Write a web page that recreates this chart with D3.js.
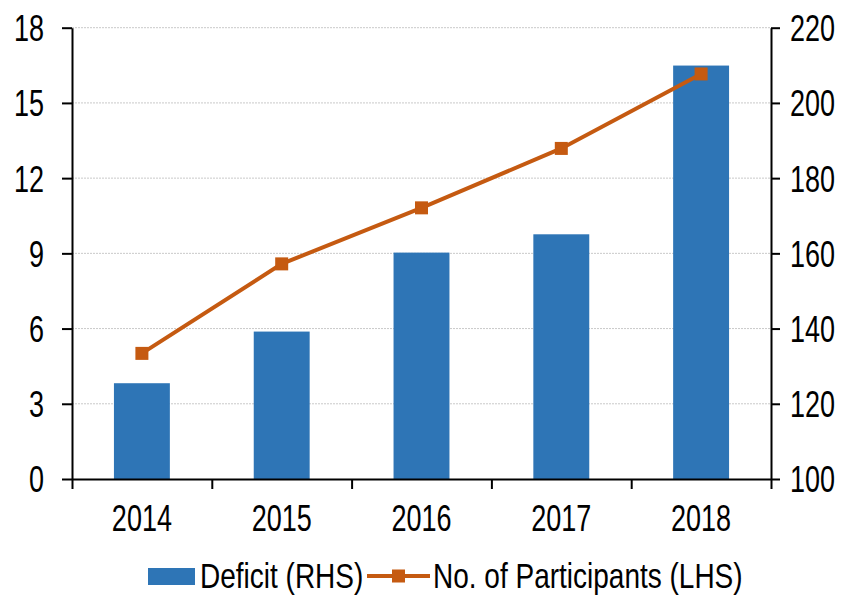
<!DOCTYPE html>
<html><head><meta charset="utf-8">
<script src="https://cdn.jsdelivr.net/npm/d3@7"></script>
<style>
html,body{margin:0;padding:0;background:#fff;}
svg text{font-family:"Liberation Sans",Arial,sans-serif;fill:#000;}
</style></head>
<body><svg id="chart" width="852" height="595"></svg>
<script>
const categories = ["2014","2015","2016","2017","2018"];
const deficit = [3.82, 5.88, 9.03, 9.76, 16.49];
const participants = [133.4, 157.2, 172.1, 187.9, 207.7];
const leftTicks = [0,3,6,9,12,15,18];
const rightTicks = [100,120,140,160,180,200,220];
const barName = "Deficit (RHS)";
const lineName = "No. of Participants (LHS)";

const svg = d3.select("#chart");
const L = 72, R = 771, T = 27.7, B = 479;
const FS = 27, SY = 1.37;
const barColor = "#2E75B6", lineColor = "#C55A11";

const x = d3.scaleBand().domain(categories).range([L, R]).paddingInner(0.6).paddingOuter(0.3);
const xb = d3.scaleLinear().domain([0, categories.length]).range([L, R]);
const yL = d3.scaleLinear().domain([0, 18]).range([B, T]);
const yR = d3.scaleLinear().domain([100, 220]).range([B, T]);

// gridlines
svg.append("g").selectAll("line").data(leftTicks.filter(d => d > 0)).join("line")
  .attr("x1", L).attr("x2", R).attr("y1", d => yL(d)).attr("y2", d => yL(d))
  .attr("stroke", "#c9c9c9").attr("stroke-width", 1).attr("stroke-dasharray", "2,1");

// bars
svg.append("g").selectAll("rect").data(deficit).join("rect")
  .attr("x", (d, i) => x(categories[i])).attr("width", x.bandwidth())
  .attr("y", d => yL(d)).attr("height", d => B - yL(d))
  .attr("fill", barColor);

function styleText(sel, dx, ty) {
  sel.selectAll("text").attr("x", dx).attr("y", 0).attr("dy", "0.35em")
    .attr("transform", `translate(0,${ty}) scale(1,${SY})`)
    .style("font-size", FS + "px").attr("fill", "#000");
}

// left axis
const gl = svg.append("g").attr("transform", `translate(${L},0)`)
  .call(d3.axisLeft(yL).tickValues(leftTicks).tickSize(10).tickSizeOuter(0));
gl.select(".domain").attr("stroke", "#000").attr("stroke-width", 2);
gl.selectAll(".tick line").attr("stroke", "#000").attr("stroke-width", 2);
styleText(gl, -28, 0);
gl.selectAll("text").attr("text-anchor", "end");

// right axis
const gr = svg.append("g").attr("transform", `translate(${R},0)`)
  .call(d3.axisRight(yR).tickValues(rightTicks).tickSize(9).tickSizeOuter(0));
gr.select(".domain").attr("stroke", "#000").attr("stroke-width", 2);
gr.selectAll(".tick line").attr("stroke", "#000").attr("stroke-width", 2);
styleText(gr, 19, 0);
gr.selectAll("text").attr("text-anchor", "start");

// bottom axis: boundary ticks
const gbt = svg.append("g").attr("transform", `translate(0,${B})`)
  .call(d3.axisBottom(xb).tickValues(d3.range(categories.length + 1)).tickSize(10).tickSizeOuter(0).tickFormat(""));
gbt.select(".domain").attr("stroke", "#000").attr("stroke-width", 2);
gbt.selectAll(".tick line").attr("stroke", "#000").attr("stroke-width", 2);
// bottom axis labels
const gb = svg.append("g").attr("transform", `translate(0,${B})`)
  .call(d3.axisBottom(x).tickSize(0));
gb.select(".domain").remove();
styleText(gb, 0, 39);
gb.selectAll("text").attr("text-anchor", "middle");

// line
const line = d3.line().x((d, i) => x(categories[i]) + x.bandwidth() / 2).y(d => yR(d));
svg.append("path").datum(participants).attr("d", line)
  .attr("fill", "none").attr("stroke", lineColor).attr("stroke-width", 4);
const ms = 13;
svg.append("g").selectAll("rect").data(participants).join("rect")
  .attr("x", (d, i) => x(categories[i]) + x.bandwidth() / 2 - ms / 2)
  .attr("y", d => yR(d) - ms / 2).attr("width", ms).attr("height", ms)
  .attr("fill", lineColor);

// legend
const ly = 576, LFS = 28, LSY = 1.27;
const lg = svg.append("g");
lg.append("rect").attr("x", 148).attr("y", ly - 8).attr("width", 47).attr("height", 17).attr("fill", barColor);
lg.append("text").attr("x", 200).attr("y", 0).attr("dy", "0.35em")
  .attr("transform", `translate(0,${ly}) scale(1,${LSY})`).style("font-size", LFS + "px").text(barName);
lg.append("line").attr("x1", 367).attr("x2", 430).attr("y1", ly).attr("y2", ly)
  .attr("stroke", lineColor).attr("stroke-width", 4);
lg.append("rect").attr("x", 398.5 - ms / 2).attr("y", ly - ms / 2).attr("width", ms).attr("height", ms).attr("fill", lineColor);
lg.append("text").attr("x", 433).attr("y", 0).attr("dy", "0.35em")
  .attr("transform", `translate(0,${ly}) scale(1,${LSY})`).style("font-size", LFS + "px").text(lineName);
</script>
</body></html>
